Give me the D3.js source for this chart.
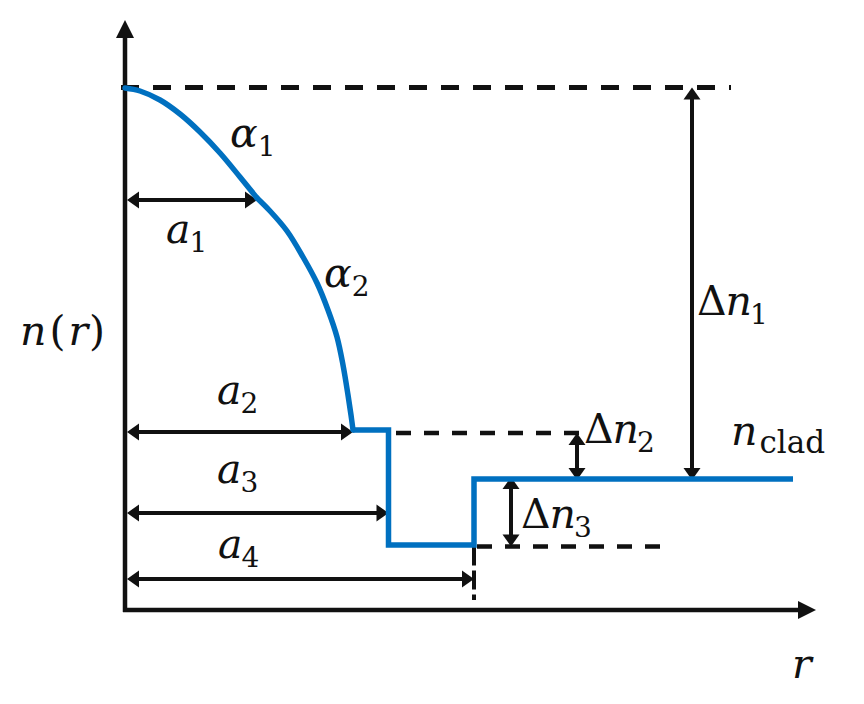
<!DOCTYPE html>
<html><head><meta charset="utf-8">
<script src="https://cdn.jsdelivr.net/npm/d3@7"></script>
<style>html,body{margin:0;padding:0;background:#fff;}svg{display:block;}</style>
</head><body>
<script>
// ---- data (r in arbitrary radial units, n in arbitrary index units) ----
const curveSeg1R = [0, 15, 35, 55, 75, 95, 115, 132];
const curveSeg1N = [522, 519, 510, 496, 478, 457, 433, 412];
const curveSeg2R = [132, 145, 162, 178, 192, 203, 212, 218, 223, 226, 228];
const curveSeg2N = [412, 399, 379, 353, 327, 300, 273, 245, 215, 195, 180];
const stepR = [228, 263.5, 263.5, 349, 349, 668];
const stepN = [180, 180, 65, 65, 131, 131];
const radii = [132, 228, 263.5, 349];          // a1..a4
const radiusArrowN = [410, 178, 97, 31];       // heights of a1..a4 arrows
const levels = { core: 522.5, step: 177, trench: 63.5, clad: 131 };
const deltaArrowR = [567, 452, 386];           // Δn1..Δn3 arrow positions
const radiusLabels = ["a", "a", "a", "a"];
const radiusSubs = ["1", "2", "3", "4"];
const alphaSubs = ["1", "2"];
const deltaSubs = ["1", "2", "3"];

const W = 864, H = 704;
const svg = d3.select("body").append("svg").attr("width", W).attr("height", H);
const x = d3.scaleLinear().domain([0, 700]).range([125, 825]);
const y = d3.scaleLinear().domain([0, 600]).range([610, 10]);
const BLUE = "#0070C0";

function head(g, tx, ty, dx, dy, len, hw) {
  const bx = tx - dx * len, by = ty - dy * len;
  const px = -dy * hw, py = dx * hw;
  g.append("path").attr("d", `M${tx},${ty}L${bx + px},${by + py}L${bx - px},${by - py}Z`).attr("fill", "#111");
}
function dimArrow(g, x1, y1, x2, y2, sw) {
  const L = Math.hypot(x2 - x1, y2 - y1), dx = (x2 - x1) / L, dy = (y2 - y1) / L;
  const len = 12, hw = 8.5;
  g.append("line").attr("x1", x1 + dx * (len - 1)).attr("y1", y1 + dy * (len - 1))
    .attr("x2", x2 - dx * (len - 1)).attr("y2", y2 - dy * (len - 1))
    .attr("stroke", "#111").attr("stroke-width", sw);
  head(g, x1, y1, -dx, -dy, len, hw);
  head(g, x2, y2, dx, dy, len, hw);
}

const g = svg.append("g");

// dashed reference lines
g.append("line").attr("x1", x(-4)).attr("x2", x(606)).attr("y1", y(levels.core)).attr("y2", y(levels.core))
  .attr("stroke", "#111").attr("stroke-width", 5).attr("stroke-dasharray", "18,14");
g.append("line").attr("x1", x(271)).attr("x2", x(455)).attr("y1", y(levels.step)).attr("y2", y(levels.step))
  .attr("stroke", "#111").attr("stroke-width", 4.5).attr("stroke-dasharray", "15,13");
g.append("line").attr("x1", x(352)).attr("x2", x(542)).attr("y1", y(levels.trench)).attr("y2", y(levels.trench))
  .attr("stroke", "#111").attr("stroke-width", 4.5).attr("stroke-dasharray", "15,13");
g.append("line").attr("x1", x(radii[3])).attr("x2", x(radii[3])).attr("y1", y(levels.trench)).attr("y2", y(10))
  .attr("stroke", "#111").attr("stroke-width", 4).attr("stroke-dasharray", "19,5");

// axes
g.append("line").attr("x1", x(0)).attr("x2", x(0)).attr("y1", y(0) + 2).attr("y2", y(573))
  .attr("stroke", "#111").attr("stroke-width", 4.5);
head(g, x(0), y(590), 0, -1, 18, 9);
g.append("line").attr("x1", x(0) - 2).attr("x2", x(675)).attr("y1", y(0)).attr("y2", y(0))
  .attr("stroke", "#111").attr("stroke-width", 4.5);
head(g, x(691), y(0), 1, 0, 18, 9);

// radius dimension arrows
radii.forEach((r, i) => dimArrow(g, x(0) + 2, y(radiusArrowN[i]), x(r), y(radiusArrowN[i]), 3.8));
// delta arrows
dimArrow(g, x(deltaArrowR[0]), y(levels.core), x(deltaArrowR[0]), y(levels.clad) + 1, 4);
dimArrow(g, x(deltaArrowR[1]), y(levels.step), x(deltaArrowR[1]), y(levels.clad) + 1, 4);
dimArrow(g, x(deltaArrowR[2]), y(levels.clad) - 2, x(deltaArrowR[2]), y(levels.trench), 4);

// profile
const line = d3.line().x(d => x(d[0])).y(d => y(d[1]));
const seg1 = curveSeg1R.map((r, i) => [r, curveSeg1N[i]]);
const seg2 = curveSeg2R.map((r, i) => [r, curveSeg2N[i]]);
const stp = stepR.map((r, i) => [r, stepN[i]]);
g.append("path").attr("d", line.curve(d3.curveCatmullRom.alpha(0.5))(seg1)).attr("fill", "none")
  .attr("stroke", BLUE).attr("stroke-width", 5.5).attr("stroke-linecap", "round");
g.append("path").attr("d", line.curve(d3.curveCatmullRom.alpha(0.5))(seg2)).attr("fill", "none")
  .attr("stroke", BLUE).attr("stroke-width", 5.5).attr("stroke-linecap", "round");
g.append("path").attr("d", line.curve(d3.curveLinear)(stp)).attr("fill", "none")
  .attr("stroke", BLUE).attr("stroke-width", 5.5).attr("stroke-linejoin", "miter").attr("stroke-linecap", "butt");

// labels: each label is one text element with tspans
const FONT = "'DejaVu Serif', serif";
const MAIN = 41, SUB = 28;
function label(px, py, parts) {
  const t = svg.append("text").attr("x", px).attr("y", py).attr("font-family", FONT)
    .attr("font-size", MAIN).attr("fill", "#111");
  parts.forEach(p => {
    const s = t.append("tspan").text(p.t)
      .attr("font-style", p.i ? "italic" : "normal");
    if (p.s) s.attr("font-size", p.s);
    if (p.dx) s.attr("dx", p.dx);
    if (p.dy) s.attr("dy", p.dy);
  });
}
// alphas
const alphaPos = [[230, 147], [324, 287]];
alphaSubs.forEach((s, i) => label(alphaPos[i][0], alphaPos[i][1],
  [{ t: "α", i: true }, { t: s, s: SUB, dy: 9 }]));
// radius labels
const aPos = [[166, 243], [217, 404], [217, 483], [218, 558]];
radiusLabels.forEach((t, i) => label(aPos[i][0], aPos[i][1],
  [{ t: t, i: true }, { t: radiusSubs[i], s: SUB, dx: -1, dy: 9 }]));
// n(r)
label(20, 345, [{ t: "n", i: true }, { t: "(", dx: 3 }, { t: "r", i: true, dx: 3 }, { t: ")", dx: 1 }]);
// deltas
const dPos = [[697, 315], [584, 443], [521, 528]];
deltaSubs.forEach((s, i) => label(dPos[i][0], dPos[i][1],
  [{ t: "Δ" }, { t: "n", i: true, dx: -1 }, { t: s, s: SUB, dx: -2, dy: 9 }]));
// n_clad
label(731, 445, [{ t: "n", i: true }, { t: "clad", s: 31, dx: 2, dy: 8 }]);
// r
label(792, 678, [{ t: "r", i: true }]);
</script>
</body></html>
